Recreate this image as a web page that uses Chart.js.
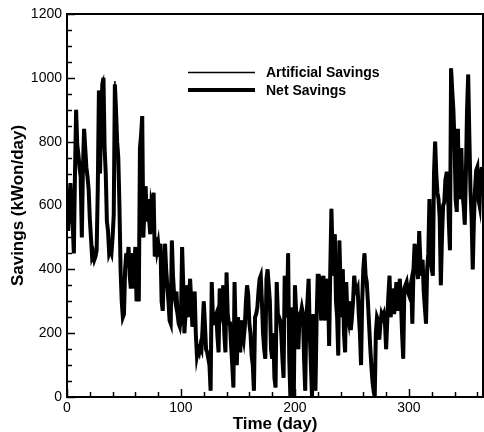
<!DOCTYPE html>
<html>
<head>
<meta charset="utf-8">
<script src="https://cdn.jsdelivr.net/npm/chart.js@4/dist/chart.umd.min.js"></script>
<style>
html,body{margin:0;padding:0;background:#fff;}
#wrap{width:484px;height:432px;position:relative;}
</style>
</head>
<body>
<div id="wrap"><canvas id="c" width="484" height="432"></canvas></div>
<script>
// ---- data ----
const seriesNames = ["Artificial Savings", "Net Savings"];
const xTicks = [0, 100, 200, 300];
const yTicks = [0, 200, 400, 600, 800, 1000, 1200];

const netSavings = [
600,520,600,670,580,540,450,700,900,790,
760,720,690,500,720,840,780,720,690,650,
560,500,440,450,430,440,460,650,960,700,
880,980,1000,780,700,550,520,450,460,450,
500,570,980,900,800,750,600,400,300,250,
260,400,450,420,470,380,340,450,340,420,
470,300,350,300,780,820,880,500,600,660,
550,620,560,510,600,580,640,440,500,460,
480,440,480,300,270,400,480,400,350,300,
240,230,490,380,320,300,330,260,230,220,
250,470,350,200,260,350,250,300,370,300,
220,280,330,200,130,150,140,160,150,220,
300,230,150,140,120,100,20,360,250,240,
250,260,190,140,340,280,260,350,200,140,
390,260,230,230,160,100,30,360,200,100,
250,190,140,240,200,180,220,300,350,320,
230,200,130,100,20,250,260,280,330,370,
380,300,200,150,120,370,400,350,300,150,
120,200,60,30,360,260,250,240,200,120,
60,380,280,250,450,120,0,280,100,0,
350,270,260,150,250,260,280,260,120,20,
250,300,370,200,100,0,260,100,20,240,
380,380,370,240,300,380,240,300,370,340,
160,400,590,450,380,510,300,250,130,490,
350,250,400,200,140,360,260,240,300,210,
250,300,380,340,330,340,260,200,100,300,
400,450,380,360,300,230,160,100,50,20,
0,200,250,240,180,230,260,250,260,230,
150,240,320,380,250,300,340,260,300,360,
270,320,370,300,200,120,340,350,360,330,
320,340,360,230,400,480,430,400,370,520,
430,380,430,330,280,230,400,450,620,450,
400,380,700,800,700,640,620,560,350,500,
600,610,680,700,700,550,460,1030,960,900,
800,620,580,840,620,700,780,640,600,540,
700,900,1010,820,650,560,400,550,650,710,
720,620,600,700,720
];

const artificialSavings = [
610,520,610,670,580,540,460,710,900,790,
760,720,690,510,720,840,780,720,690,650,
560,500,450,450,430,440,460,650,960,700,
880,990,1000,780,700,550,520,450,460,450,
500,570,990,900,800,750,600,400,300,250,
260,400,450,420,470,380,340,450,340,420,
470,300,350,300,790,810,880,500,600,660,
550,620,560,510,600,580,640,440,500,460,
480,440,480,300,270,400,480,400,350,300,
240,230,490,380,320,300,330,260,230,220,
250,470,350,200,260,350,250,300,370,300,
220,280,330,200,130,150,140,160,150,220,
300,230,150,140,120,100,20,360,250,240,
250,260,190,140,340,280,260,350,200,140,
390,260,230,230,160,100,30,360,200,100,
250,190,140,240,200,180,220,300,350,320,
230,200,130,100,20,250,260,280,330,370,
380,300,200,150,120,370,400,350,300,150,
120,200,60,30,360,260,250,240,200,120,
60,380,280,250,450,120,0,280,100,0,
350,270,260,150,250,260,280,260,120,20,
250,300,370,200,100,0,260,100,20,240,
380,380,370,240,300,380,240,300,370,340,
160,400,590,450,380,510,300,250,130,490,
350,250,400,200,140,360,260,240,300,210,
250,300,380,340,330,340,260,200,100,300,
400,450,380,360,300,230,160,100,50,20,
0,200,250,240,180,230,260,250,260,230,
150,240,320,380,250,300,340,260,300,360,
270,320,370,300,200,120,340,350,360,330,
320,340,360,230,400,480,430,400,370,520,
430,380,430,330,280,230,400,450,620,450,
400,380,700,800,700,640,620,560,350,500,
600,610,680,700,700,550,460,1030,960,900,
800,620,580,840,620,700,780,640,600,540,
700,900,1010,820,650,560,400,550,650,710,
720,620,600,700,720
];

const days = netSavings.map((_, i) => i);

const FONT = "'Liberation Sans', Arial, Helvetica, sans-serif";

// inward ticks, frame and legend
const decor = {
  id: 'decor',
  afterDraw(chart) {
    const ctx = chart.ctx, a = chart.chartArea;
    const xs = chart.scales.x, ys = chart.scales.y;
    ctx.save();
    ctx.strokeStyle = '#000';
    ctx.lineWidth = 1.5;
    ctx.beginPath();
    for (let v = 0; v <= 360; v += 20) {
      const px = Math.round(xs.getPixelForValue(v)) + 0.5;
      const len = (v % 100 === 0) ? 8 : 5;
      ctx.moveTo(px, a.bottom); ctx.lineTo(px, a.bottom - len);
    }
    for (let v = 0; v <= 1200; v += 50) {
      const py = Math.round(ys.getPixelForValue(v)) + 0.5;
      const len = (v % 200 === 0) ? 8 : 5;
      ctx.moveTo(a.left, py); ctx.lineTo(a.left + len, py);
    }
    ctx.stroke();
    ctx.lineWidth = 2;
    ctx.strokeRect(a.left, a.top, a.right - a.left, a.bottom - a.top);

    // legend
    const items = chart.data.datasets;
    const lx0 = 188, lx1 = 255, tx = 266, rows = [72, 90];
    ctx.font = 'bold 14px ' + FONT;
    ctx.fillStyle = '#000';
    ctx.textBaseline = 'middle';
    items.forEach((ds, i) => {
      ctx.lineWidth = ds.borderWidth;
      ctx.strokeStyle = '#000';
      ctx.beginPath();
      ctx.moveTo(lx0, Math.round(rows[i]) + (ds.borderWidth < 2 ? 0.5 : 0));
      ctx.lineTo(lx1, Math.round(rows[i]) + (ds.borderWidth < 2 ? 0.5 : 0));
      ctx.stroke();
      ctx.fillText(ds.label, tx, rows[i] + 1);
    });
    ctx.restore();
  }
};

new Chart(document.getElementById('c'), {
  type: 'line',
  data: {
    labels: days,
    datasets: [
      { label: seriesNames[0], data: artificialSavings, borderColor: '#000', borderWidth: 1.5, pointRadius: 0, tension: 0, order: 1 },
      { label: seriesNames[1], data: netSavings, borderColor: '#000', borderWidth: 4, pointRadius: 0, tension: 0, order: 2 }
    ]
  },
  options: {
    responsive: false,
    animation: false,
    layout: { padding: { top: 14, right: 1, left: 0, bottom: 0 } },
    plugins: { legend: { display: false }, tooltip: { enabled: false } },
    scales: {
      x: {
        type: 'linear', min: 0, max: 365,
        afterBuildTicks(s) { s.ticks = xTicks.map(v => ({ value: v })); },
        afterFit(s) { s.height = 35; },
        grid: { display: false, drawTicks: false },
        border: { display: false },
        ticks: { color: '#000', padding: 3, maxRotation: 0, callback: v => String(v), font: { family: FONT, size: 14 } },
        title: { display: true, text: 'Time (day)', color: '#000', padding: { top: 0, bottom: -3 }, font: { family: FONT, size: 17, weight: 'bold' } }
      },
      y: {
        min: 0, max: 1200,
        afterBuildTicks(s) { s.ticks = yTicks.map(v => ({ value: v })); },
        afterFit(s) { s.width = 67; },
        grid: { display: false, drawTicks: false },
        border: { display: false },
        ticks: { color: '#000', padding: 5, callback: v => String(v), font: { family: FONT, size: 14 } },
        title: { display: true, text: 'Savings (kWon/day)', color: '#000', padding: { top: 8, bottom: 0 }, font: { family: FONT, size: 17, weight: 'bold' } }
      }
    }
  },
  plugins: [decor]
});
</script>
</body>
</html>
